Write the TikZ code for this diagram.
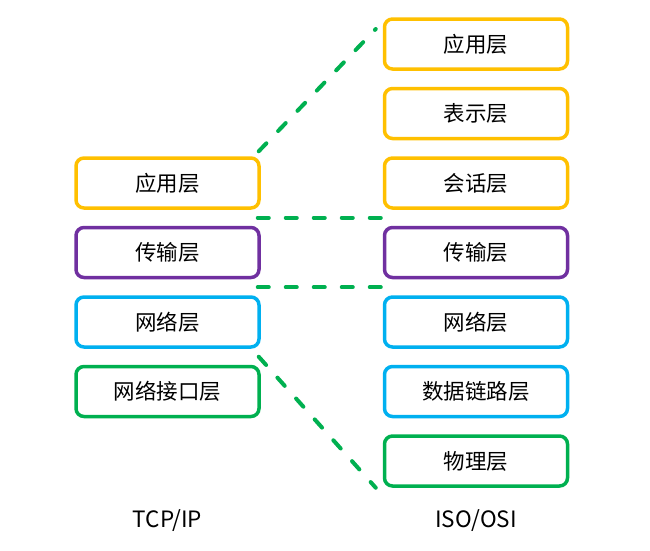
\documentclass[tikz,border=0pt]{standalone}
\usepackage{fontspec}
\setmainfont{Noto Sans CJK SC}
\usetikzlibrary{positioning,calc}
\definecolor{layeryellow}{HTML}{FFC000}
\definecolor{layerpurple}{HTML}{7030A0}
\definecolor{layerblue}{HTML}{00B0F0}
\definecolor{layergreen}{HTML}{00B050}

\begin{document}
\begin{tikzpicture}[x=1pt,y=1pt,node distance=69.5pt,on grid]
    \tikzstyle{every node}=[font={\fontsize{21.5}{24}\selectfont}]
    \tikzstyle{layer}=[draw, line width=3.5pt, rounded corners=8pt, fill=white,
        minimum width=183pt, minimum height=50pt, inner sep=0pt]
    \tikzstyle{link}=[layergreen, line width=4pt, line cap=round,
        dash pattern=on 11pt off 17pt]
    \tikzstyle{stack}=[font={\fontsize{22.5}{26}\selectfont}]
    \useasboundingbox (0,0) rectangle (650,-550);

    % ISO/OSI
    \node[layer, draw=layeryellow] (oapp) at (476,-44) {应用层};
    \node[layer, draw=layeryellow, below=of oapp] (opres) {表示层};
    \node[layer, draw=layeryellow, below=of opres] (osess) {会话层};
    \node[layer, draw=layerpurple, below=of osess] (otrans) {传输层};
    \node[layer, draw=layerblue, below=of otrans] (onet) {网络层};
    \node[layer, draw=layerblue, below=of onet] (olink) {数据链路层};
    \node[layer, draw=layergreen, below=of olink] (ophys) {物理层};

    % TCP/IP
    \node[layer, draw=layeryellow, left=308.5pt of osess] (tapp) {应用层};
    \node[layer, draw=layerpurple, below=of tapp] (ttrans) {传输层};
    \node[layer, draw=layerblue, below=of ttrans] (tnet) {网络层};
    \node[layer, draw=layergreen, below=of tnet] (tnif) {网络接口层};

    \node[stack, below=129.5pt of tnif] (tcplabel) {TCP/IP};
    \node[stack, below=60pt of ophys] (osilabel) {ISO/OSI};

    \draw[link] ($(tapp.north east)+(-2,5)$) -- ($(oapp.west)+(-7,15)$);
    \draw[link] ($(tapp.south east)!0.5!(ttrans.north east)+(-3,0)$)
        -- ($(osess.south west)!0.5!(otrans.north west)$);
    \draw[link] ($(ttrans.south east)!0.5!(tnet.north east)+(-3,0)$)
        -- ($(otrans.south west)!0.5!(onet.north west)$);
    \draw[link] ($(tnet.south east)+(-2,-8)$) -- ($(ophys.south west)+(-7,0)$);
\end{tikzpicture}
\end{document}
